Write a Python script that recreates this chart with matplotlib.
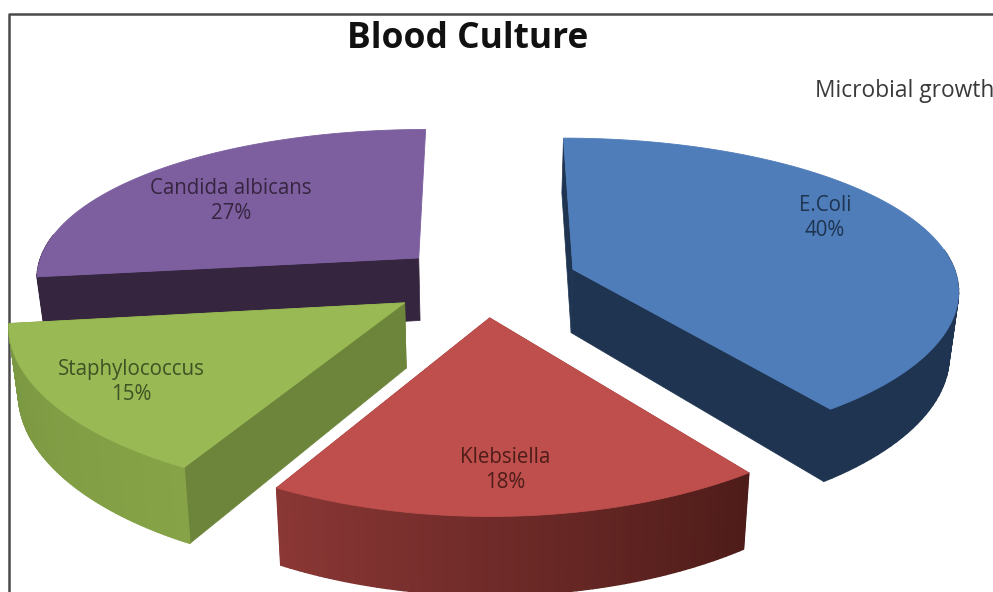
import numpy as np
import matplotlib
matplotlib.use("Agg")
import matplotlib.pyplot as plt
from matplotlib.collections import PolyCollection

categories = ["E.Coli", "Klebsiella", "Staphylococcus", "Candida albicans"]
percentages = [40, 18, 15, 27]

top_colors = ["#4F7DBA", "#BE4F4C", "#98B954", "#7D5FA0"]
# rim shading runs from the clockwise start of each slice to its end
rim_start = ["#1E3450", "#4E1C19", "#87A347", "#36253F"]
rim_end = ["#1E3450", "#8A3735", "#7A9742", "#36253F"]
radial_colors = ["#1E3450", "#8A3735", "#6C853A", "#36253F"]
label_xy = [(825, 218), (505, 470), (131, 382), (231, 201)]
explode = [0.245, 0.23, 0.245, 0.23]
# whether the start and end radial walls of a slice are drawn
radial_walls = [(True, True), (True, True), (True, True), (True, False)]

START_ANGLE = 0.0
CX, CY = 484, 281
RX, RY = 385, 155
KX, KY = 0.12, 0.155
DEPTH = 64
BASE_SHRINK = 0.98


def project(u, v, lift=0.0):
    """Perspective map from pie-plane coordinates to canvas pixels."""
    sx = 1 / (1 + KX * v)
    sy = 1 / (1 + KY * v)
    shrink = 1 - (1 - BASE_SHRINK) * lift / DEPTH
    return CX + RX * u * sx * shrink, CY - RY * v * sy + lift * sy


def rgb(c):
    return np.array(matplotlib.colors.to_rgb(c))


fig = plt.figure(figsize=(9.93, 5.92), dpi=100)
ax = fig.add_axes([0, 0, 1, 1])
ax.set_xlim(0, 993)
ax.set_ylim(592, 0)
ax.axis("off")

ax.plot([9, 9, 993], [592, 14, 14], color="#4A4A4A", lw=1.8, zorder=1)

# Angular span of every slice, clockwise from twelve o'clock
spans = []
angle = START_ANGLE
for p in percentages:
    spans.append((angle, angle + 3.6 * p))
    angle += 3.6 * p

draw_order = [3, 2, 0, 1]
z = 2
for i in draw_order:
    a0, a1 = spans[i]
    mid = np.radians((a0 + a1) / 2)
    ou, ov = explode[i] * np.sin(mid), explode[i] * np.cos(mid)
    th = np.radians(np.linspace(a0, a1, 90))
    u = ou + np.sin(th)
    v = ov + np.cos(th)

    tx, ty = project(u, v)
    bx, by = project(u, v, DEPTH)
    ax_, ay_ = project(ou, ov)
    abx, aby = project(ou, ov, DEPTH)

    # Radial end walls
    for j, show in zip((0, -1), radial_walls[i]):
        if show:
            ax.fill([ax_, tx[j], bx[j], abx], [ay_, ty[j], by[j], aby],
                    color=radial_colors[i], lw=0.5, zorder=z)
    z += 1

    # Curved outer wall, shaded segment by segment; the far side stays hidden
    quads, cols = [], []
    for k in range(len(th) - 1):
        if np.cos(th[k]) > 0.15:
            continue
        quads.append([(tx[k], ty[k]), (tx[k + 1], ty[k + 1]),
                      (bx[k + 1], by[k + 1]), (bx[k], by[k])])
        t = k / (len(th) - 2)
        cols.append(rgb(rim_start[i]) * (1 - t) + rgb(rim_end[i]) * t)
    ax.add_collection(PolyCollection(quads, facecolors=cols, edgecolors=cols,
                                     linewidths=1.0, zorder=z))
    z += 1

    # Top face
    ax.fill(np.r_[ax_, tx], np.r_[ay_, ty], color=top_colors[i], lw=0.6, zorder=z)
    z += 1

text_colors = ["#1E3450", "#4E1C19", "#3F5224", "#36253F"]
for name, pct, (x, y), col in zip(categories, percentages, label_xy, text_colors):
    ax.text(x, y, f"{name}\n{pct}%", ha="center", va="center", fontsize=14.8,
            family="Open Sans", color=col, linespacing=1.25, zorder=50)

ax.text(468, 39, "Blood Culture", ha="center", va="center", fontsize=25.5,
        family="Open Sans", weight="bold", color="#111111", zorder=50)
ax.text(815, 91, "Microbial growth", ha="left", va="center", fontsize=16.4,
        family="Open Sans", color="#3A3A3A", zorder=50, clip_on=True)

fig.savefig("out.png", dpi=100, facecolor="white")
